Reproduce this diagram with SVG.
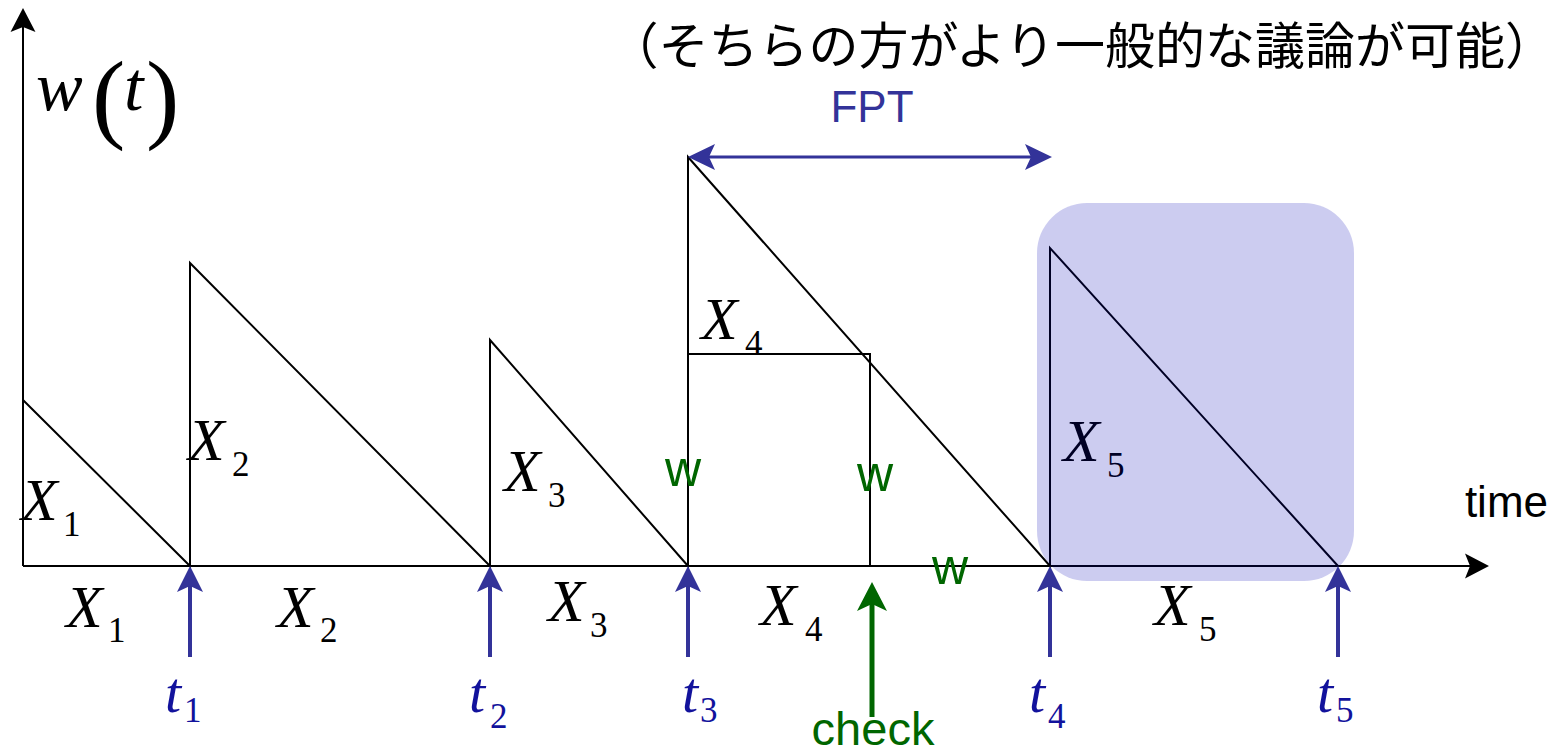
<svg xmlns="http://www.w3.org/2000/svg" width="1558" height="752" viewBox="0 0 1558 752">
<style>
.ln{stroke:#000;stroke-width:2;fill:none}
.mx{font-family:"Liberation Serif","Times New Roman",serif;font-style:italic;font-size:60px;fill:#000}
.sb{font-family:"Liberation Serif","Times New Roman",serif;font-size:35px;fill:#000}
.tl{font-family:"Liberation Serif","Times New Roman",serif;font-style:italic;font-size:58px;fill:#12129c}
.ts{font-family:"Liberation Serif","Times New Roman",serif;font-size:35px;fill:#12129c}
.gw{font-family:"Liberation Sans",Arial,sans-serif;font-size:50px;fill:#006600;text-anchor:middle}
.sa{font-family:"Liberation Sans",Arial,sans-serif}
.ba{stroke:#333399;stroke-width:4;fill:none}
.par{font-family:"Liberation Serif","Times New Roman",serif;font-size:100px;fill:#000}
</style>
<defs>
<marker id="hb" markerUnits="userSpaceOnUse" viewBox="-8 -15 30 30" markerWidth="30" markerHeight="30" refX="0" refY="0" orient="auto"><path d="M20,0 L-6,-13 L0,0 L-6,13 Z" fill="#333399"/></marker>
<marker id="hf" markerUnits="userSpaceOnUse" viewBox="-8 -15 30 30" markerWidth="30" markerHeight="30" refX="0" refY="0" orient="auto-start-reverse"><path d="M21,0 L-6,-13 L0,0 L-6,13 Z" fill="#333399"/></marker>
<marker id="hg" markerUnits="userSpaceOnUse" viewBox="-9 -17 33 34" markerWidth="33" markerHeight="34" refX="0" refY="0" orient="auto"><path d="M22,0 L-7,-15 L0,0 L-7,15 Z" fill="#006600"/></marker>
<marker id="hk" markerUnits="userSpaceOnUse" viewBox="-7 -14 28 28" markerWidth="28" markerHeight="28" refX="0" refY="0" orient="auto"><path d="M19,0 L-5,-12.5 L0,0 L-5,12.5 Z" fill="#000"/></marker>
</defs>

<g id="title">
<text x="1555" y="64" text-anchor="end" font-family="'Noto Sans CJK JP',sans-serif" font-size="50" fill="#000">（そちらの方がより一般的な議論が可能）</text>
</g>

<g id="axes">
<line class="ln" x1="23" y1="566" x2="23" y2="27" marker-end="url(#hk)"/>
<line class="ln" x1="23" y1="566" x2="1470" y2="566" marker-end="url(#hk)"/>
<text x="36" y="110" class="mx" style="font-size:70px">w</text>
<text x="92" y="130" class="par">(</text>
<text x="124" y="110" class="mx" style="font-size:70px">t</text>
<text x="146" y="130" class="par">)</text>
<text x="1548" y="517" class="sa" font-size="44" text-anchor="end">time</text>
</g>

<g id="sawtooth">
<polyline class="ln" points="23,400 190,566 190,263 490,566 490,340 688,566 688,157 1050,566 1050,248 1338,566"/>
<polyline class="ln" points="688,354 870,354 870,566"/>
</g>

<g id="labels-up">
<text x="21" y="520" class="mx">X</text><text x="63" y="536" class="sb">1</text>
<text x="188" y="460" class="mx">X</text><text x="232" y="476" class="sb">2</text>
<text x="504" y="491" class="mx">X</text><text x="548" y="507" class="sb">3</text>
<text x="701" y="339" class="mx">X</text><text x="745" y="355" class="sb">4</text>
<text x="1063" y="461" class="mx">X</text><text x="1107" y="477" class="sb">5</text>
</g>

<g id="labels-down">
<text x="66" y="627" class="mx">X</text><text x="108" y="642" class="sb">1</text>
<text x="277" y="627" class="mx">X</text><text x="320" y="642" class="sb">2</text>
<text x="548" y="621" class="mx">X</text><text x="590" y="637" class="sb">3</text>
<text x="760" y="625" class="mx">X</text><text x="805" y="641" class="sb">4</text>
<text x="1154" y="625" class="mx">X</text><text x="1199" y="641" class="sb">5</text>
</g>

<g id="w-labels">
<text x="683" y="486" class="gw">w</text>
<text x="875" y="491" class="gw">w</text>
<text x="950" y="584" class="gw">w</text>
</g>

<g id="highlight">
<rect x="1037" y="203" width="317" height="378" rx="50" ry="50" fill="#0000b3" fill-opacity="0.2"/>
</g>

<g id="connectors">
<line class="ba" x1="190" y1="657" x2="190" y2="586" marker-end="url(#hb)"/>
<line class="ba" x1="490" y1="657" x2="490" y2="586" marker-end="url(#hb)"/>
<line class="ba" x1="688" y1="657" x2="688" y2="586" marker-end="url(#hb)"/>
<line class="ba" x1="1050" y1="657" x2="1050" y2="586" marker-end="url(#hb)"/>
<line class="ba" x1="1338" y1="657" x2="1338" y2="586" marker-end="url(#hb)"/>
<line x1="872" y1="717" x2="872" y2="604" stroke="#006600" stroke-width="5" marker-end="url(#hg)"/>
<line x1="709" y1="157" x2="1031" y2="157" stroke="#333399" stroke-width="3" marker-start="url(#hf)" marker-end="url(#hf)"/>
</g>

<g id="t-labels">
<text x="165" y="712" class="tl">t</text><text x="184" y="722" class="ts">1</text>
<text x="469" y="712" class="tl">t</text><text x="490" y="728" class="ts">2</text>
<text x="682" y="712" class="tl">t</text><text x="700" y="722" class="ts">3</text>
<text x="1029" y="712" class="tl">t</text><text x="1048" y="728" class="ts">4</text>
<text x="1317" y="712" class="tl">t</text><text x="1336" y="722" class="ts">5</text>
</g>

<g id="fpt"><text x="872" y="122" class="sa" font-size="44" fill="#333399" text-anchor="middle">FPT</text></g>
<g id="check"><text x="873" y="745" class="sa" font-size="47" fill="#006600" text-anchor="middle">check</text></g>
</svg>
